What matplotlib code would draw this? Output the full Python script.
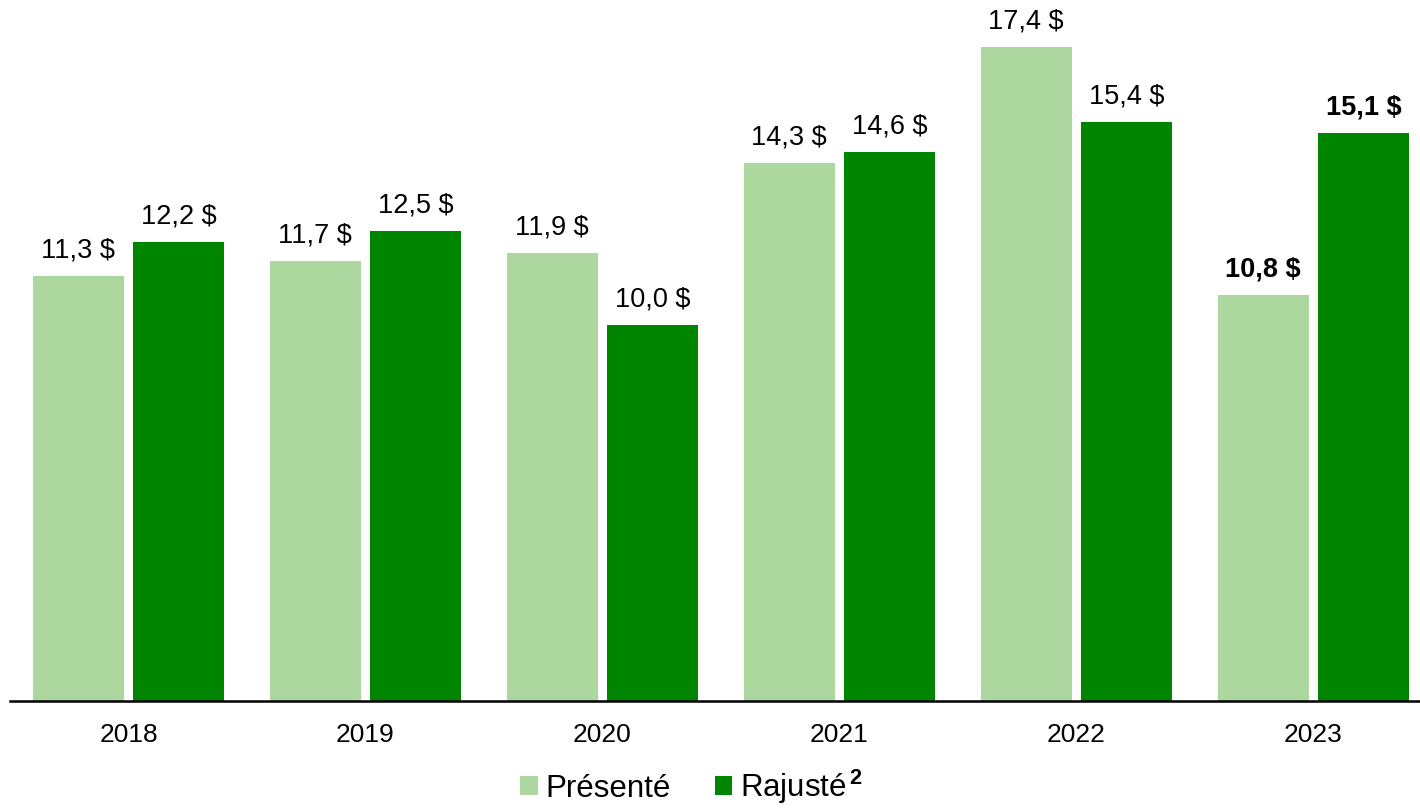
import matplotlib.pyplot as plt
import numpy as np

plt.rcParams['font.family'] = ['Liberation Sans', 'DejaVu Sans']
plt.rcParams['mathtext.fontset'] = 'custom'
plt.rcParams['mathtext.rm'] = 'Liberation Sans'
plt.rcParams['mathtext.bf'] = 'Liberation Sans:bold'

# data
years = ['2018', '2019', '2020', '2021', '2022', '2023']
presente = [11.3, 11.7, 11.9, 14.3, 17.4, 10.8]
rajuste = [12.2, 12.5, 10.0, 14.6, 15.4, 15.1]
bold_years = ['2023']

light = '#acd89f'
dark = '#008500'

fig = plt.figure(figsize=(14.2, 8.08), dpi=100)
ax = fig.add_axes([10 / 1420, 107 / 808, 1410 / 1420, 701 / 808])

x = np.arange(len(years))
w = 0.384
off = 0.212
b1 = ax.bar(x - off, presente, w, color=light, label='Présenté')
b2 = ax.bar(x + off, rajuste, w, color=dark, label=r'Rajusté$^{\,\mathbf{2}}$')

def fmt(v):
    return f"{v:.1f}".replace('.', ',') + ' $'

for bars, vals in [(b1, presente), (b2, rajuste)]:
    for rect, v, yr in zip(bars, vals, years):
        ax.annotate(fmt(v), (rect.get_x() + rect.get_width() / 2, v),
                    xytext=(0, 9), textcoords='offset points',
                    ha='center', va='bottom', fontsize=19.5,
                    fontweight='bold' if yr in bold_years else 'normal')

ax.set_xlim(-0.5, 5.45)
ax.set_ylim(0, 18.64)
ax.set_xticks(x)
ax.set_xticklabels(years, fontsize=19)
ax.tick_params(axis='x', length=0, pad=16)
ax.set_yticks([])
for s in ['top', 'right', 'left']:
    ax.spines[s].set_visible(False)
ax.spines['bottom'].set_linewidth(1.8)
ax.spines['bottom'].set_color('black')

fig.legend(handles=[b1, b2], loc='lower center', bbox_to_anchor=(0.487, -0.032),
           ncol=2, frameon=False, fontsize=22.5, handlelength=0.55, handleheight=0.55,
           handletextpad=0.25, columnspacing=1.4)

fig.savefig('out.png', dpi=100)
